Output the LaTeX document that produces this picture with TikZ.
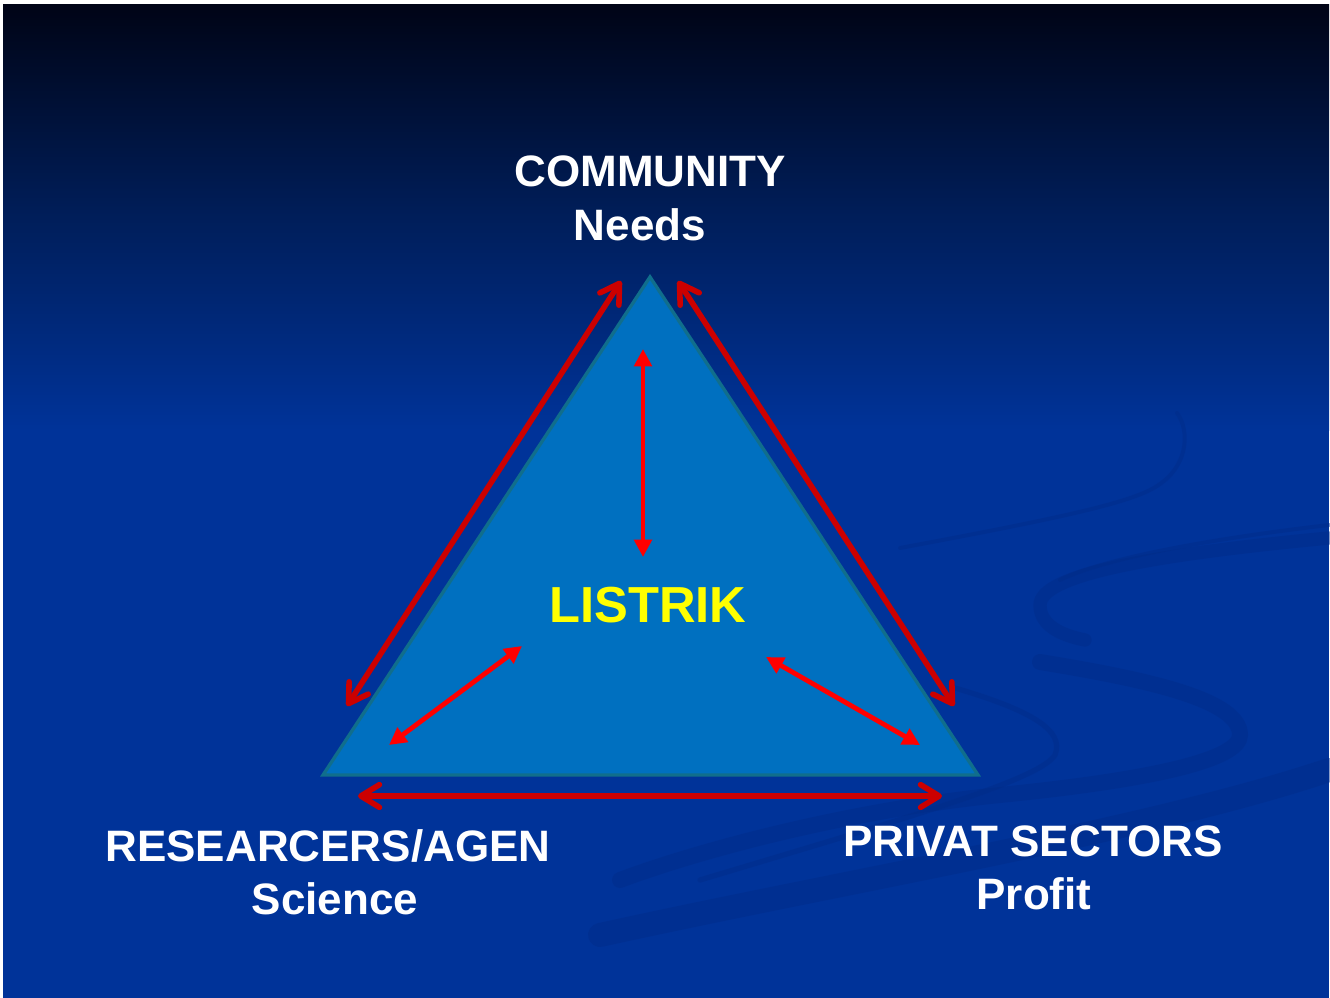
\documentclass[tikz,border=0pt]{standalone}
\usepackage{fontspec}
\setmainfont{Liberation Sans}
\usetikzlibrary{arrows.meta}
\definecolor{bgblue}{RGB}{0,51,153}
\definecolor{bgtop}{RGB}{0,4,22}
\definecolor{bgmid}{RGB}{0,30,90}
\definecolor{swirl}{RGB}{0,44,136}
\definecolor{trifill}{RGB}{0,112,192}
\definecolor{triedge}{RGB}{16,110,140}
\definecolor{darkred}{RGB}{204,0,0}
\definecolor{brightred}{RGB}{255,0,0}
\definecolor{listrik}{RGB}{255,255,0}
\tikzset{
  swirlline/.style={draw=swirl, line cap=round},
  outerarrow/.style={draw=darkred, line width=4.2pt,
    {Straight Barb[length=14pt,width=17pt,line width=4.2pt,round]}-{Straight Barb[length=14pt,width=17pt,line width=4.2pt,round]}},
  innerarrow/.style={draw=brightred, line width=3.6pt,
    {Triangle[length=13pt,width=13pt]}-{Triangle[length=13pt,width=13pt]}},
  label/.style={text=white, font=\bfseries\fontsize{33}{38}\selectfont, align=center, inner sep=0pt},
}
\begin{document}
\begin{tikzpicture}[x=0.75pt,y=-0.75pt]
\useasboundingbox (0,0) rectangle (1330,998);
\fill[white] (0,0) rectangle (1330,998);
\fill[bgblue] (3,5) rectangle (1329,998);
\shade[top color=bgtop, bottom color=bgblue, middle color=bgmid] (3,5) rectangle (1329,430);
% faint background swirls
\begin{scope}[opacity=0.45]
\draw[swirlline, line width=3pt] (900,548) .. controls (1050,520) and (1120,505) .. (1150,490) .. controls (1190,470) and (1190,430) .. (1177,413);
\draw[swirlline, line width=10pt] (1329,538) .. controls (1150,555) and (1040,575) .. (1040,605) .. controls (1040,625) and (1060,635) .. (1085,640);
\draw[swirlline, line width=3pt] (1329,525) .. controls (1200,540) and (1100,560) .. (1060,580);
\draw[swirlline, line width=12pt] (1040,662) .. controls (1150,680) and (1240,700) .. (1240,735) .. controls (1240,760) and (1150,780) .. (1000,795) .. controls (850,810) and (700,850) .. (620,880);
\draw[swirlline, line width=4pt] (955,688) .. controls (1030,710) and (1065,730) .. (1055,755) .. controls (1040,780) and (900,820) .. (700,880);
\draw[swirlline, line width=18pt] (1329,770) .. controls (1150,830) and (850,880) .. (600,935);
\end{scope}
% triangle
\coordinate (apex) at (650,277);
\coordinate (bl) at (323,775);
\coordinate (br) at (978,775);
\filldraw[fill=trifill, draw=triedge, line width=2.5pt, line join=miter] (apex) -- (bl) -- (br) -- cycle;
% labels
\node[label] (comm) at (650,171) {COMMUNITY};
\node[label] (needs) at (640,225) {Needs};
\node[label] (res) at (328,846) {RESEARCERS/AGEN};
\node[label] (sci) at (335,899) {Science};
\node[label] (priv) at (1033,841) {PRIVAT SECTORS};
\node[label] (prof) at (1034,894) {Profit};
\node[text=listrik, font=\bfseries\fontsize{38}{42}\selectfont, inner sep=0pt] (listrik) at (648,605) {LISTRIK};
% outer arrows
\coordinate (l1) at (621,281);
\coordinate (l2) at (347,706);
\coordinate (r1) at (678,281);
\coordinate (r2) at (954,706);
\coordinate (b1) at (358,796);
\coordinate (b2) at (942,796);
\draw[outerarrow] (l1) -- (l2);
\draw[outerarrow] (r1) -- (r2);
\draw[outerarrow] (b1) -- (b2);
% inner arrows
\coordinate (v1) at (643,349);
\coordinate (v2) at (643,557);
\coordinate (il1) at (522,646);
\coordinate (il2) at (389,745);
\coordinate (ir1) at (766,657);
\coordinate (ir2) at (920,745);
\draw[innerarrow] (v1) -- (v2);
\draw[innerarrow] (il1) -- (il2);
\draw[innerarrow] (ir1) -- (ir2);
\end{tikzpicture}
\end{document}
